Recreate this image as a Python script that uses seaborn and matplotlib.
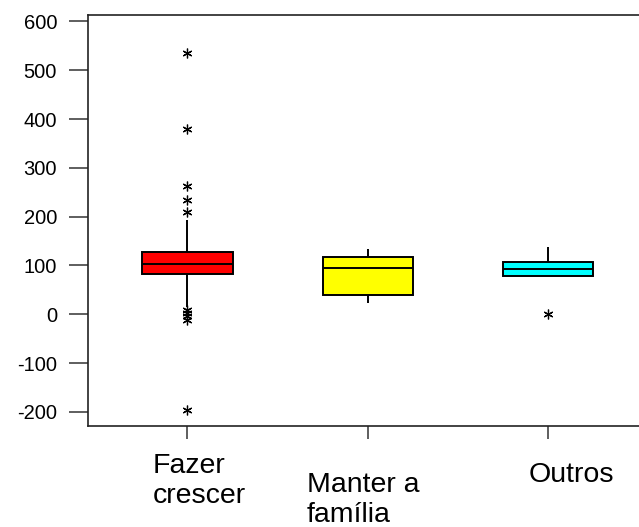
import matplotlib
matplotlib.use("Agg")
import matplotlib.pyplot as plt
import matplotlib.transforms as mtransforms
import seaborn as sns
import pandas as pd

# ---- data ----
categories = ["Fazer\ncrescer", "Manter a\nfamília", "Outros"]
fazer_crescer = [-196, -11, -4, 3, 9, 15.6, 82, 86, 90, 94, 97, 100, 103,
                 106, 110, 114, 118, 122, 127, 194, 209, 234, 263, 380, 535]
manter_familia = [24, 39, 94, 118, 134]
outros = [0, 78, 78, 85, 93.4, 100, 106.5, 120, 137]
box_colors = ["#FF0000", "#FFFF00", "#00FFFF"]
y_ticks = [-200, -100, 0, 100, 200, 300, 400, 500, 600]

df = pd.DataFrame({
    "grupo": [categories[0]] * len(fazer_crescer)
    + [categories[1]] * len(manter_familia)
    + [categories[2]] * len(outros),
    "valor": fazer_crescer + manter_familia + outros,
})

sns.set_style("white")
plt.rcParams["font.family"] = ["Liberation Sans", "DejaVu Sans"]
plt.rcParams["text.color"] = "black"
plt.rcParams["xtick.color"] = "black"
plt.rcParams["ytick.color"] = "black"

fig = plt.figure(figsize=(6.39, 5.27), dpi=100)
ax = fig.add_axes([88.3 / 639, (527 - 426) / 527, 1 - 88.3 / 639, (426 - 15) / 527])

sns.boxplot(
    data=df, x="grupo", y="valor", hue="grupo", order=categories,
    hue_order=categories, palette=box_colors, saturation=1, width=0.5,
    whis=1.5, showcaps=False, linecolor="black", linewidth=1.4,
    flierprops=dict(marker=(6, 2, 0), markeredgecolor="black",
                    markerfacecolor="black", markersize=7, markeredgewidth=0.9),
    legend=False, ax=ax,
)

ax.set_xlim(-0.55, 2.505)
ax.set_ylim(-228.9, 613.3)
ax.set_yticks(y_ticks)
ax.set_yticklabels([str(v) for v in y_ticks], fontsize=14.5, color="black")
ax.set_xticks(range(len(categories)))
ax.set_xticklabels([""] * len(categories))
ax.set_xlabel("")
ax.set_ylabel("")

ax.tick_params(axis="y", direction="out", length=14, width=1.1, color="#333333",
               pad=8.5, left=True)
ax.tick_params(axis="x", direction="out", length=9, width=1.1, color="#333333",
               bottom=True)

for side in ["left", "bottom", "top"]:
    ax.spines[side].set_visible(True)
    ax.spines[side].set_color("#222222")
    ax.spines[side].set_linewidth(1.2)
ax.spines["right"].set_visible(False)

# category labels placed below the ticks (left-aligned blocks as in the reference)
# offsets are to the baseline of the last line of each label
offsets = [(-35, -77), (-61, -96), (-19, -56)]
trans = mtransforms.blended_transform_factory(ax.transData, ax.transAxes)
for i, (lab, (dx, dy)) in enumerate(zip(categories, offsets)):
    ax.annotate(lab, xy=(i, 0), xycoords=trans, xytext=(dx, dy),
                textcoords="offset pixels", ha="left", va="baseline",
                multialignment="left", fontsize=20.5, color="black",
                annotation_clip=False)

fig.savefig("out.png", dpi=100)
